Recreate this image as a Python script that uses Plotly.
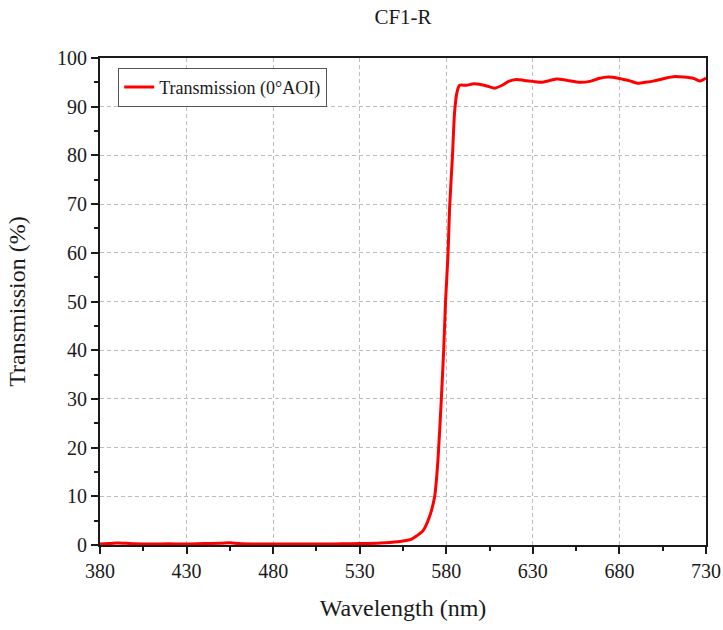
import plotly.graph_objects as go

wavelength = [380, 385, 390, 395, 400, 410, 420, 430, 440, 450, 455, 460, 470, 480, 490,
              500, 510, 520, 530, 540, 545, 550, 555, 560, 563, 566.5, 570.4, 573.3, 575.2,
              577.1, 578.5, 579.6, 581, 581.9, 583.5, 584.8, 586.2, 587.7, 591.6, 596, 600.3,
              604, 608, 612.8, 616, 620.5, 625, 630, 635, 640, 644, 650, 657, 663, 668, 673.6,
              680, 686, 691, 695, 700, 707, 712, 717, 723, 726.6, 730]
transmission = [0.2, 0.3, 0.4, 0.35, 0.25, 0.2, 0.25, 0.2, 0.3, 0.35, 0.45, 0.3, 0.2, 0.2, 0.2,
                0.2, 0.2, 0.25, 0.3, 0.35, 0.45, 0.6, 0.8, 1.2, 1.9, 2.9, 5.9, 10, 17.5,
                29.7, 40, 50.2, 59.7, 69.2, 79.4, 88.9, 93, 94.4, 94.4, 94.7, 94.5,
                94.2, 93.8, 94.5, 95.2, 95.6, 95.4, 95.2, 95.0, 95.4, 95.7, 95.4, 95.0, 95.2, 95.8, 96.1,
                95.8, 95.3, 94.8, 95.0, 95.3, 95.9, 96.2, 96.1, 95.8, 95.3, 95.9]

x_ticks = [380, 430, 480, 530, 580, 630, 680, 730]
y_ticks = [0, 10, 20, 30, 40, 50, 60, 70, 80, 90, 100]

font_family = "Liberation Serif"
ink = '#1a1a1a'

fig = go.Figure()
fig.add_trace(go.Scatter(x=wavelength, y=transmission, mode='lines',
                         name='Transmission (0°AOI)',
                         line=dict(color='#ff0000', width=3, shape='spline', smoothing=0.6)))

axis_style = dict(showline=True, linecolor=ink, linewidth=2, mirror=True,
                  ticks='outside', ticklen=7, tickwidth=2, tickcolor=ink,
                  showgrid=True, gridcolor='#bdbdbd', griddash='4px,3px', gridwidth=1,
                  zeroline=False, automargin=False, ticklabeloverflow='allow',
                  tickfont=dict(family=font_family, size=20, color=ink))

fig.update_xaxes(range=[380, 730], tickvals=x_ticks,
                 title=dict(text='Wavelength (nm)', font=dict(family=font_family, size=24, color=ink), standoff=18),
                 minor=dict(dtick=25, tick0=380, ticks='outside', ticklen=4, tickwidth=2, tickcolor=ink, showgrid=False),
                 **axis_style)
fig.update_yaxes(range=[0, 100], tickvals=y_ticks,
                 title=dict(text='Transmission (%)', font=dict(family=font_family, size=24, color=ink), standoff=25),
                 minor=dict(dtick=5, tick0=0, ticks='outside', ticklen=4, tickwidth=2, tickcolor=ink, showgrid=False),
                 **axis_style)

fig.update_layout(
    width=723, height=630,
    margin=dict(l=100, r=17, t=58, b=85),
    title=dict(text='CF1-R', xref='paper', x=0.5, xanchor='center', y=0.986, yanchor='top',
               pad=dict(t=0, b=0), font=dict(family=font_family, size=21, color=ink)),
    plot_bgcolor='white', paper_bgcolor='white',
    showlegend=True,
    legend=dict(x=0.03, y=0.98, xanchor='left', yanchor='top',
                bordercolor='#555555', borderwidth=1, bgcolor='white',
                font=dict(family=font_family, size=18, color=ink)),
)

# drop the default page margin so the figure fills the window exactly
fig.write_html("out.html", config={'displayModeBar': False},
               post_script="document.body.style.margin='0';document.body.style.overflow='hidden';")
